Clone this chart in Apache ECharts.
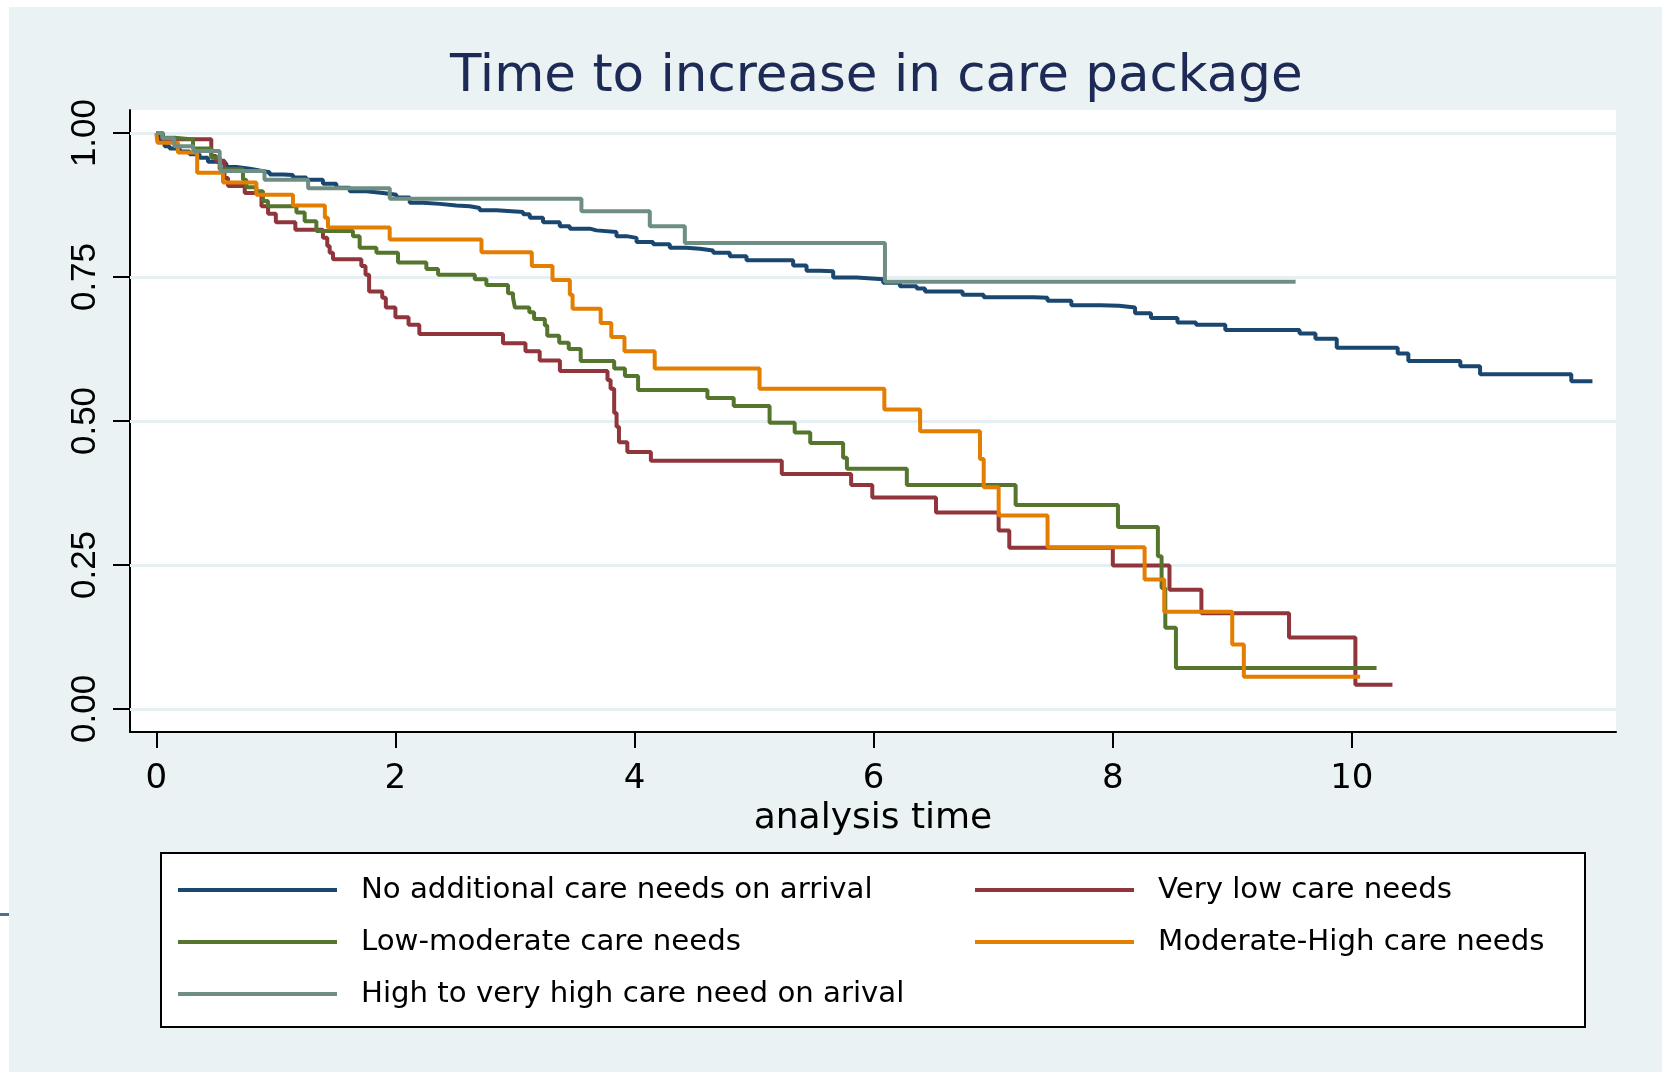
<!DOCTYPE html>
<html>
<head>
<meta charset="utf-8">
<script src="https://cdn.jsdelivr.net/npm/echarts@6/dist/echarts.min.js"></script>
<style>
  html, body { margin: 0; padding: 0; background: #ffffff; }
  #chart { width: 1662px; height: 1072px; }
</style>
</head>
<body>
<div id="chart"></div>
<script>
// ---- data ----
const titleText = 'Time to increase in care package';
const xAxisName = 'analysis time';
const xTicks = [0, 2, 4, 6, 8, 10];
const yTicks = [0, 0.25, 0.5, 0.75, 1];
const yTickLabels = ['0.00', '0.25', '0.50', '0.75', '1.00'];
const seriesNames = [
  'No additional care needs on arrival',
  'Very low care needs',
  'Low-moderate care needs',
  'Moderate-High care needs',
  'High to very high care need on arival'
];
const seriesColors = ['#1a476f', '#90353b', '#55752f', '#e37e00', '#6e8e84'];

// Kaplan-Meier steps: [time, survival after step]
const noAdditional = [
  [0, 1], [0.028, 0.989], [0.069, 0.977], [0.111, 0.973], [0.195, 0.968], [0.279, 0.963],
  [0.362, 0.957], [0.432, 0.950], [0.502, 0.947], [0.586, 0.941], [0.669, 0.938], [0.781, 0.935],
  [0.864, 0.932], [0.948, 0.928], [1.06, 0.927], [1.143, 0.923], [1.255, 0.919], [1.394, 0.912],
  [1.506, 0.905], [1.618, 0.899], [1.757, 0.896], [1.896, 0.893], [2.008, 0.888], [2.12, 0.879],
  [2.231, 0.877], [2.371, 0.874], [2.51, 0.873], [2.622, 0.870], [2.705, 0.866], [2.845, 0.863],
  [3.068, 0.859], [3.124, 0.853], [3.235, 0.845], [3.375, 0.838], [3.459, 0.834], [3.626, 0.831],
  [3.682, 0.828], [3.849, 0.821], [3.933, 0.818], [4.017, 0.811], [4.156, 0.807], [4.295, 0.801],
  [4.435, 0.799], [4.546, 0.796], [4.658, 0.792], [4.797, 0.786], [4.937, 0.779], [5.327, 0.770],
  [5.439, 0.761], [5.551, 0.760], [5.662, 0.749], [5.858, 0.746], [6.08, 0.740], [6.22, 0.734],
  [6.36, 0.730], [6.43, 0.725], [6.744, 0.719], [6.921, 0.715], [7.343, 0.714], [7.455, 0.709],
  [7.654, 0.701], [7.899, 0.700], [8.053, 0.697], [8.187, 0.687], [8.32, 0.679], [8.542, 0.671],
  [8.697, 0.667], [8.942, 0.658], [9.563, 0.652], [9.696, 0.643], [9.874, 0.627], [10.384, 0.617],
  [10.473, 0.604], [10.908, 0.595], [11.073, 0.581], [11.836, 0.569], [12.013, 0.569]
];
const veryLow = [
  [0, 1], [0.05, 0.989], [0.46, 0.960], [0.5, 0.952], [0.57, 0.922], [0.6, 0.908], [0.74, 0.896],
  [0.88, 0.873], [0.935, 0.860], [1.0, 0.845], [1.163, 0.832], [1.394, 0.818], [1.43, 0.804],
  [1.45, 0.792], [1.478, 0.781], [1.715, 0.769], [1.75, 0.754], [1.78, 0.725], [1.89, 0.714],
  [1.92, 0.697], [2.0, 0.680], [2.11, 0.667], [2.2, 0.651], [2.9, 0.635], [3.088, 0.621],
  [3.207, 0.605], [3.376, 0.587], [3.774, 0.571], [3.8, 0.556], [3.83, 0.514], [3.85, 0.490],
  [3.87, 0.463], [3.94, 0.446], [4.137, 0.431], [5.232, 0.408], [5.812, 0.389], [5.989, 0.367],
  [6.522, 0.341], [7.046, 0.310], [7.135, 0.280], [8.001, 0.249], [8.475, 0.207], [8.742, 0.166],
  [9.475, 0.124], [10.03, 0.042], [10.34, 0.042]
];
const lowModerate = [
  [0, 1], [0.056, 0.992], [0.153, 0.989], [0.307, 0.973], [0.46, 0.957], [0.53, 0.937],
  [0.725, 0.919], [0.753, 0.906], [0.837, 0.899], [0.892, 0.882], [0.934, 0.873], [1.172, 0.862],
  [1.241, 0.847], [1.339, 0.830], [1.645, 0.821], [1.701, 0.801], [1.841, 0.792], [2.022, 0.775],
  [2.259, 0.764], [2.357, 0.754], [2.664, 0.746], [2.761, 0.736], [2.942, 0.722], [2.984, 0.714],
  [3.0, 0.697], [3.12, 0.689], [3.16, 0.677], [3.25, 0.666], [3.27, 0.648], [3.37, 0.636],
  [3.45, 0.625], [3.55, 0.604], [3.83, 0.591], [3.92, 0.578], [4.03, 0.554], [4.61, 0.540],
  [4.83, 0.526], [5.13, 0.497], [5.34, 0.480], [5.47, 0.462], [5.745, 0.436], [5.777, 0.417],
  [6.278, 0.389], [7.188, 0.354], [8.044, 0.316], [8.378, 0.265], [8.409, 0.210], [8.44, 0.141],
  [8.529, 0.071], [10.207, 0.071]
];
const moderateHigh = [
  [0, 1], [0.01, 0.983], [0.181, 0.966], [0.342, 0.931], [0.558, 0.914], [0.837, 0.893],
  [1.143, 0.874], [1.41, 0.853], [1.436, 0.836], [1.952, 0.815], [2.72, 0.793], [3.141, 0.769],
  [3.314, 0.745], [3.459, 0.719], [3.482, 0.695], [3.717, 0.670], [3.806, 0.646], [3.916, 0.621],
  [4.169, 0.591], [5.046, 0.556], [6.09, 0.520], [6.389, 0.482], [6.89, 0.434], [6.921, 0.385],
  [7.046, 0.336], [7.455, 0.281], [8.267, 0.225], [8.431, 0.169], [9.0, 0.112], [9.097, 0.056],
  [10.07, 0.056]
];
const highVeryHigh = [
  [0, 1], [0.05, 0.991], [0.15, 0.977], [0.31, 0.969], [0.53, 0.957], [0.54, 0.934],
  [0.905, 0.919], [1.27, 0.904], [1.953, 0.886], [3.556, 0.864], [4.128, 0.838], [4.421, 0.809],
  [6.095, 0.742], [9.53, 0.742]
];
const seriesData = [noAdditional, veryLow, lowModerate, moderateHigh, highVeryHigh];

// ---- chart ----
const chart = echarts.init(document.getElementById('chart'), null, { renderer: 'canvas' });
const FONT = 'DejaVu Sans';

const curveSeries = seriesData.map((d, i) => ({
  name: seriesNames[i],
  type: 'line',
  step: 'end',
  data: d,
  symbol: 'none',
  showSymbol: false,
  color: seriesColors[i],
  lineStyle: { color: seriesColors[i], width: 4 },
  emphasis: { disabled: true },
  silent: true,
  z: 10 + i
}));

const gridSeries = {
  name: '__grid',
  type: 'line',
  data: [],
  silent: true,
  z: 1,
  markLine: {
    z: 1,
    silent: true,
    symbol: 'none',
    animation: false,
    label: { show: false },
    emphasis: { disabled: true },
    lineStyle: { color: '#e6eff1', width: 3, type: 'solid' },
    data: yTicks.map(v => ({ yAxis: v }))
  }
};

const legendCommon = {
  orient: 'vertical',
  padding: 0,
  itemWidth: 159,
  itemHeight: 4,
  itemGap: 22,
  icon: 'rect',
  selectedMode: false,
  top: 875
};

const option = {
  animation: false,
  backgroundColor: '#ffffff',
  title: {
    text: titleText,
    left: 450,
    top: 52,
    padding: 0,
    textStyle: { fontFamily: FONT, fontSize: 51.5, fontWeight: 'normal', color: '#1c2a55', lineHeight: 52 }
  },
  graphic: [
    { type: 'rect', z: -100, silent: true, shape: { x: 9, y: 7, width: 1653, height: 1065 }, style: { fill: '#eaf2f3' } },
    { type: 'rect', z: 2, silent: true, shape: { x: 161, y: 853, width: 1424, height: 174 }, style: { fill: '#ffffff', stroke: '#000000', lineWidth: 2 } },
    { type: 'rect', z: 2, silent: true, shape: { x: 0, y: 913, width: 9, height: 3 }, style: { fill: '#4f6f8f' } }
  ],
  legend: [
    Object.assign({}, legendCommon, {
      left: 178,
      data: [seriesNames[0], seriesNames[2], seriesNames[4]],
      textStyle: { fontFamily: FONT, fontSize: 29.2, lineHeight: 30, color: '#000', padding: [0, 0, 0, 19] }
    }),
    Object.assign({}, legendCommon, {
      left: 975,
      data: [seriesNames[1], seriesNames[3]],
      textStyle: { fontFamily: FONT, fontSize: 29.2, lineHeight: 30, color: '#000', padding: [0, 0, 0, 19] }
    })
  ],
  grid: {
    left: 130, right: 46, top: 110, bottom: 340,
    show: true, backgroundColor: '#ffffff', borderWidth: 0,
    containLabel: false, outerBoundsMode: 'none'
  },
  xAxis: {
    type: 'value',
    min: -0.22,
    max: 12.21,
    name: xAxisName,
    nameLocation: 'middle',
    nameGap: 59,
    nameTextStyle: { fontFamily: FONT, fontSize: 36, color: '#000' },
    axisLine: { show: true, onZero: false, lineStyle: { color: '#000', width: 2 } },
    axisTick: { show: true, customValues: xTicks, length: 16, lineStyle: { color: '#000', width: 2 } },
    axisLabel: { customValues: xTicks, margin: 30, fontFamily: FONT, fontSize: 34, color: '#000' },
    splitLine: { show: false }
  },
  yAxis: {
    type: 'value',
    min: -0.04,
    max: 1.04,
    axisLine: { show: true, onZero: false, lineStyle: { color: '#000', width: 2 } },
    axisTick: { show: true, customValues: yTicks, length: 17, lineStyle: { color: '#000', width: 2 } },
    axisLabel: {
      customValues: yTicks,
      rotate: 90,
      margin: 27,
      fontFamily: 'Liberation Sans',
      fontSize: 35,
      color: '#000',
      formatter: v => yTickLabels[yTicks.indexOf(v)] !== undefined ? yTickLabels[yTicks.indexOf(v)] : v.toFixed(2)
    },
    splitLine: { show: false }
  },
  series: [gridSeries].concat(curveSeries)
};
chart.setOption(option);
</script>
</body>
</html>
